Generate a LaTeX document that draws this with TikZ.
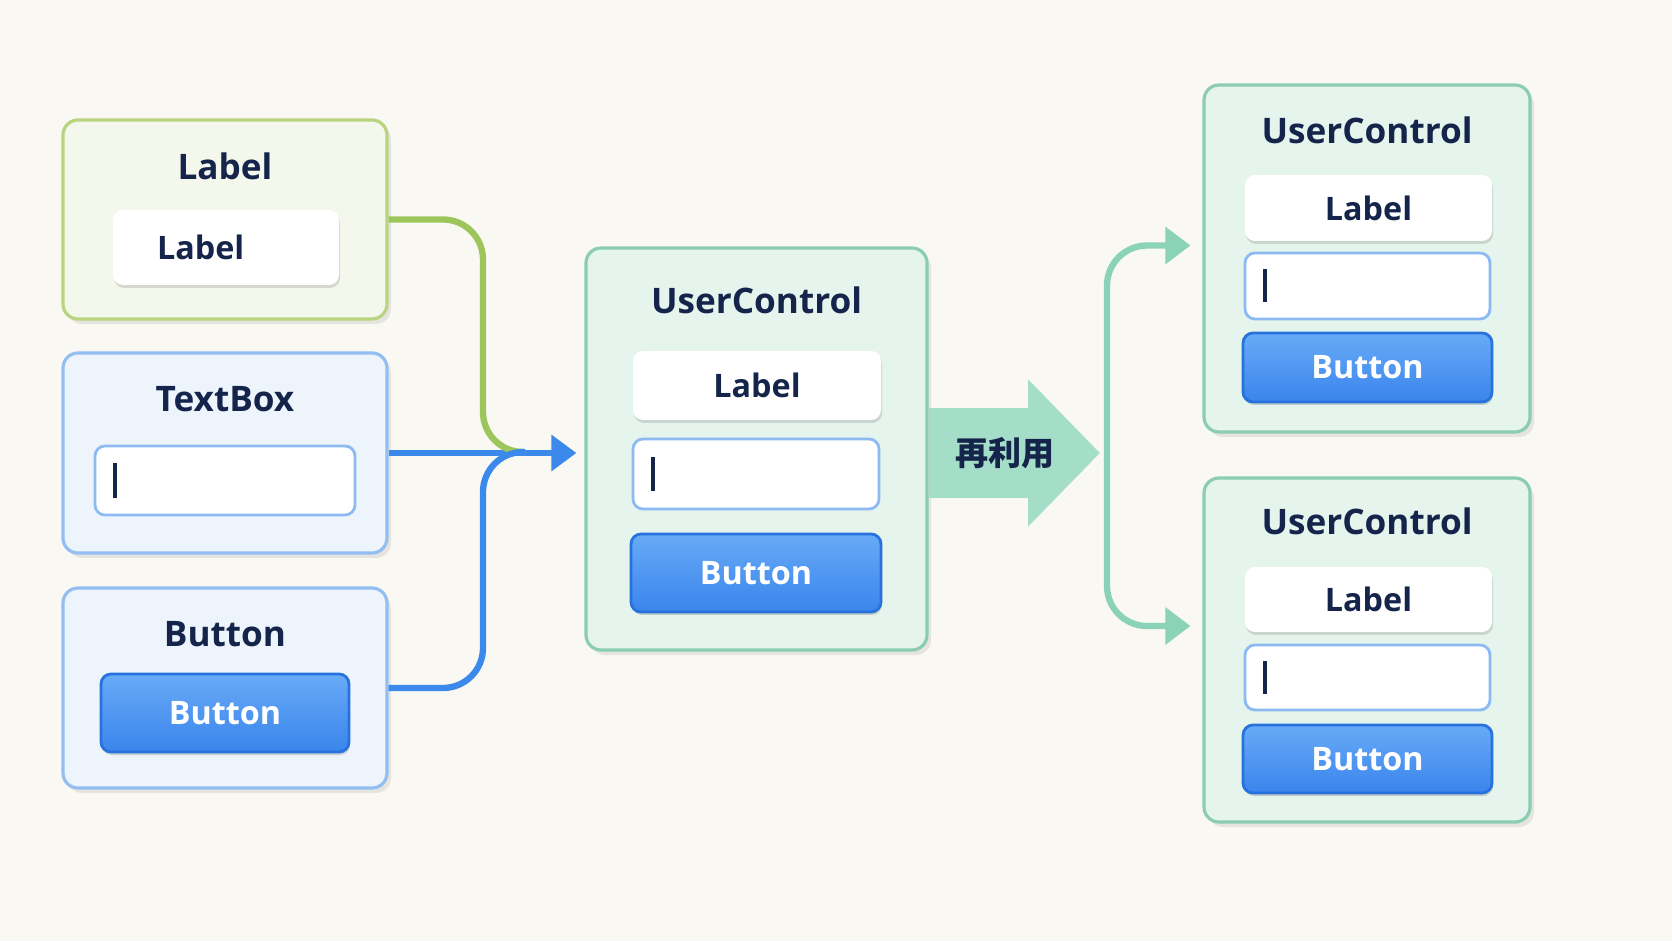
\documentclass[tikz,border=0pt]{standalone}
\usepackage{fontspec}
\setmainfont{Open Sans}
\newfontfamily\cjkfont{Noto Sans CJK JP}
\usetikzlibrary{positioning,calc,arrows.meta,shadows}
\definecolor{pagebg}{RGB}{250,248,243}
\definecolor{navytext}{RGB}{20,36,74}
\definecolor{labelgreen}{RGB}{184,212,126}
\definecolor{labelfill}{RGB}{244,247,236}
\definecolor{ctrlblue}{RGB}{146,190,242}
\definecolor{ctrlfill}{RGB}{238,244,252}
\definecolor{ucteal}{RGB}{138,205,178}
\definecolor{ucfill}{RGB}{229,244,236}
\definecolor{inputblue}{RGB}{141,186,242}
\definecolor{btntop}{RGB}{104,170,247}
\definecolor{btnbottom}{RGB}{58,133,236}
\definecolor{btnedge}{RGB}{40,114,222}
\definecolor{wiregreen}{RGB}{156,198,92}
\definecolor{wireblue}{RGB}{60,137,236}
\definecolor{wireteal}{RGB}{138,211,185}
\definecolor{reuseteal}{RGB}{164,221,200}
\tikzset{
  panel/.style={draw, rounded corners=0.15cm, line width=0.9pt,
                drop shadow={shadow xshift=0.04cm, shadow yshift=-0.05cm, opacity=0.08, fill=black}},
  lblpanel/.style={panel, draw=labelgreen, fill=labelfill, minimum width=3.24cm, minimum height=1.99cm},
  ctrlpanel/.style={panel, draw=ctrlblue, fill=ctrlfill, minimum width=3.24cm, minimum height=2cm},
  ucpanel/.style={panel, draw=ucteal, fill=ucfill, minimum width=3.26cm},
  title/.style={font=\bfseries\fontsize{10}{12}\selectfont, text=navytext, inner sep=0pt},
  widget/.style={rounded corners=0.1cm, font=\bfseries\fontsize{9.2}{11}\selectfont, inner sep=0pt},
  lblwidget/.style={widget, fill=white, text=navytext,
                    drop shadow={shadow xshift=0.01cm, shadow yshift=-0.03cm, opacity=0.12, fill=black}},
  inwidget/.style={widget, draw=inputblue, fill=white, line width=0.8pt},
  btnwidget/.style={widget, draw=btnedge, top color=btntop, bottom color=btnbottom, line width=0.8pt, text=white,
                    drop shadow={shadow xshift=0.01cm, shadow yshift=-0.03cm, opacity=0.15, fill=black}},
  caret/.style={draw=navytext, line width=1.1pt},
  wire/.style={line width=1.8pt, rounded corners=0.4cm},
}

\begin{document}
\begin{tikzpicture}[>=Latex]

\fill[pagebg] (0,0) rectangle (16.72,9.41);
\useasboundingbox (0,0) rectangle (16.72,9.41);

% -----------------------------------------
% Single controls (left column)
% -----------------------------------------
\node[lblpanel] (lblBox) at (2.25,7.215) {};
\node[title] (lblTitle) at ([yshift=-0.48cm]lblBox.north) {Label};
\node[lblwidget, minimum height=0.75cm, text width=1.38cm, inner xsep=0.44cm, align=left] (lblInner) at (2.26,6.935) {Label};

\node[ctrlpanel] (tbBox) at (2.25,4.88) {};
\node[title] (tbTitle) at ([yshift=-0.48cm]tbBox.north) {TextBox};
\node[inwidget, minimum width=2.6cm, minimum height=0.69cm] (tbInput) at (2.25,4.605) {};
\draw[caret] ([xshift=0.21cm,yshift=0.175cm]tbInput.west) -- ++(0,-0.35);

\node[ctrlpanel] (btBox) at (2.25,2.53) {};
\node[title] (btTitle) at ([yshift=-0.48cm]btBox.north) {Button};
\node[btnwidget, minimum width=2.48cm, minimum height=0.78cm] (btInner) at (2.25,2.28) {Button};

% -----------------------------------------
% Composed UserControl (middle)
% -----------------------------------------
\node[ucpanel, minimum width=3.41cm, minimum height=4.02cm] (ucMid) at (7.565,4.92) {};
\node[title] (midTitle) at ([yshift=-0.54cm]ucMid.north) {UserControl};
\node[lblwidget, minimum width=2.48cm, minimum height=0.69cm] (midLabel) at (7.57,5.555) {Label};
\node[inwidget, minimum width=2.46cm, minimum height=0.7cm] (midInput) at (7.56,4.67) {};
\draw[caret] ([xshift=0.21cm,yshift=0.17cm]midInput.west) -- ++(0,-0.34);
\node[btnwidget, minimum width=2.5cm, minimum height=0.78cm] (midButton) at (7.56,3.68) {Button};

% wires into the UserControl
\coordinate (bend) at (4.83,4.89);
\coordinate (join) at (5.25,4.89);
\draw[wire, wireblue, -{Triangle[length=0.25cm,width=0.35cm]}, shorten >=0.08cm]
  (tbBox.east) -- (ucMid.west |- tbBox.east);
\draw[wire, wiregreen] (lblBox.east) -| (bend) -- (join);
\draw[wire, wireblue] (btBox.east) -| (bend) -- (join);

% -----------------------------------------
% Reuse arrow
% -----------------------------------------
\coordinate (fork) at (11.07,4.88);
\draw[draw=reuseteal, line width=0.9cm, -{Triangle[length=0.72cm,width=1.43cm]}, shorten >=0.07cm]
  (ucMid.east |- fork) -- (fork)
  node[pos=0.43, font=\cjkfont\bfseries\fontsize{9.4}{11}\selectfont, text=navytext] (reuseLbl) {再利用};

% -----------------------------------------
% Reused copies (right column)
% -----------------------------------------
\node[ucpanel, minimum height=3.47cm] (ucTop) at (13.67,6.825) {};
\node[title] (topTitle) at ([yshift=-0.47cm]ucTop.north) {UserControl};
\node[lblwidget, minimum width=2.47cm, minimum height=0.66cm] (topLabel) at (13.685,7.33) {Label};
\node[inwidget, minimum width=2.45cm, minimum height=0.66cm] (topInput) at (13.675,6.55) {};
\draw[caret] ([xshift=0.21cm,yshift=0.165cm]topInput.west) -- ++(0,-0.33);
\node[btnwidget, minimum width=2.49cm, minimum height=0.69cm] (topButton) at (13.675,5.735) {Button};

\node[ucpanel, minimum height=3.44cm] (ucBot) at (13.67,2.91) {};
\node[title] (botTitle) at ([yshift=-0.45cm]ucBot.north) {UserControl};
\node[lblwidget, minimum width=2.47cm, minimum height=0.65cm] (botLabel) at (13.685,3.415) {Label};
\node[inwidget, minimum width=2.45cm, minimum height=0.65cm] (botInput) at (13.675,2.635) {};
\draw[caret] ([xshift=0.21cm,yshift=0.165cm]botInput.west) -- ++(0,-0.33);
\node[btnwidget, minimum width=2.49cm, minimum height=0.68cm] (botButton) at (13.675,1.82) {Button};

% fork to both copies
\draw[wire, wireteal, -{Triangle[length=0.25cm,width=0.36cm]}, shorten >=0.12cm]
  (fork) |- ([yshift=0.13cm]ucTop.west);
\draw[wire, wireteal, -{Triangle[length=0.25cm,width=0.36cm]}, shorten >=0.12cm]
  (fork) |- ([yshift=0.24cm]ucBot.west);
\end{tikzpicture}
\end{document}
